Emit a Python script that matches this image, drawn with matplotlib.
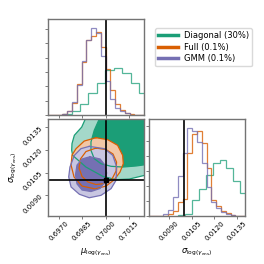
import matplotlib
matplotlib.use('Agg')
import matplotlib.pyplot as plt
import numpy as np
from matplotlib.lines import Line2D
from matplotlib.ticker import MultipleLocator

# Axis ranges and ticks
mu_range = (0.69632, 0.70244)
sig_range = (0.00765, 0.01403)
mu_ticks = [0.6970, 0.6985, 0.7000, 0.7015]
sig_ticks = [0.0090, 0.0105, 0.0120, 0.0135]
mu_true = 0.7000
sig_true = 0.0100

names = ['Diagonal (30%)', 'Full (0.1%)', 'GMM (0.1%)']
colors = ['#1b9e77', '#d95f02', '#7570b3']
light = ['#a4d8c9', '#f2c7a6', '#c8c6e1']

# 1D marginals of mu (density), Full and GMM share 20 bins over mu_range
mu_full = [0, 0, 0, 12, 60, 170, 440, 745, 1050, 1100, 1160, 950, 645, 355, 160, 75, 25, 12, 0, 0]
mu_gmm = [0, 0, 0, 12, 60, 185, 415, 755, 1050, 1220, 1145, 820, 475, 220, 100, 50, 25, 0, 0, 0]
mu_diag_edges = [0.69728, 0.69782, 0.69836, 0.69890, 0.69944, 0.69998,
                 0.70053, 0.70107, 0.70161, 0.70215, 0.70270]
mu_diag = [12, 60, 160, 305, 450, 635, 660, 585, 450, 305]

# 1D marginals of sigma (density)
sig_full = [0, 0, 0, 0, 24, 70, 188, 223, 846, 1093, 1128, 975, 646, 212, 129, 70, 35, 12, 0, 0]
sig_gmm = [0, 0, 0, 24, 82, 247, 529, 846, 1175, 1128, 987, 705, 388, 188, 106, 59, 24, 12, 0, 0]
sig_diag_edges = [0.00959, 0.01005, 0.01051, 0.01097, 0.01142, 0.01188,
                  0.01234, 0.01280, 0.01326, 0.01372, 0.01418]
sig_diag = [12, 24, 212, 364, 552, 705, 752, 646, 470, 305]

# 2D contour outlines (mu, sigma), outer then inner level
diag_outer_mu = [0.69887, 0.69870, 0.69847, 0.69800, 0.69785, 0.69783, 0.69789, 0.69874,
                 0.69981, 0.70066, 0.70150, 0.70250, 0.70346, 0.70346]
diag_outer_sig = [0.01495, 0.01403, 0.01350, 0.01296, 0.01241, 0.01197, 0.01164, 0.01087,
                  0.01026, 0.01004, 0.01008, 0.01033, 0.01068, 0.01495]
diag_inner_mu = [0.69964, 0.69959, 0.69927, 0.69906, 0.69906, 0.69927, 0.69970, 0.70034,
                 0.70108, 0.70193, 0.70250, 0.70346, 0.70346]
diag_inner_sig = [0.01495, 0.01403, 0.01329, 0.01252, 0.01197, 0.01142, 0.01109, 0.01092,
                  0.01087, 0.01094, 0.01102, 0.01133, 0.01495]

full_outer_mu = [0.69938, 0.70013, 0.70076, 0.70108, 0.70112, 0.70091, 0.70055, 0.70002,
                 0.69932, 0.69849, 0.69798, 0.69779, 0.69785, 0.69811, 0.69863]
full_outer_sig = [0.01280, 0.01267, 0.01230, 0.01164, 0.01109, 0.01054, 0.01004, 0.00962,
                  0.00943, 0.00962, 0.01022, 0.01100, 0.01166, 0.01208, 0.01258]
full_inner_mu = [0.69938, 0.70002, 0.70046, 0.70069, 0.70066, 0.70040, 0.69995, 0.69938,
                 0.69887, 0.69849, 0.69830, 0.69839, 0.69874]
full_inner_sig = [0.01212, 0.01202, 0.01173, 0.01120, 0.01061, 0.01008, 0.00979, 0.00972,
                  0.00989, 0.01025, 0.01081, 0.01140, 0.01189]

gmm_outer_mu = [0.69895, 0.69991, 0.70045, 0.70070, 0.70066, 0.70034, 0.69970, 0.69895,
                0.69832, 0.69779, 0.69764, 0.69772, 0.69800, 0.69842]
gmm_outer_sig = [0.01223, 0.01208, 0.01164, 0.01087, 0.01000, 0.00945, 0.00901, 0.00885,
                 0.00908, 0.00956, 0.01022, 0.01087, 0.01164, 0.01208]
gmm_inner_mu = [0.69900, 0.69964, 0.69995, 0.70006, 0.69995, 0.69964, 0.69906, 0.69849,
                0.69817, 0.69807, 0.69817, 0.69849]
gmm_inner_sig = [0.01155, 0.01140, 0.01100, 0.01048, 0.00989, 0.00946, 0.00926, 0.00936,
                 0.00976, 0.01035, 0.01100, 0.01140]

fig = plt.figure(figsize=(2.64, 2.64), dpi=100)
ax_mu = fig.add_axes([0.1818, 0.5644, 0.3636, 0.3636])
ax_2d = fig.add_axes([0.1818, 0.1818, 0.3636, 0.3674])
ax_sig = fig.add_axes([0.5644, 0.1818, 0.3636, 0.3674])

for ax in [ax_mu, ax_2d, ax_sig]:
    for s in ax.spines.values():
        s.set_color('0.45')
        s.set_linewidth(1.0)
    ax.tick_params(length=2, width=0.6, color='0.4', labelsize=5, pad=1)

# mu histogram
mu_edges = np.linspace(mu_range[0], mu_range[1], len(mu_full) + 1)
ax_mu.stairs(mu_diag, mu_diag_edges, color=colors[0], lw=0.9, alpha=0.75)
ax_mu.stairs(mu_full, mu_edges, color=colors[1], lw=0.9, alpha=0.8)
ax_mu.stairs(mu_gmm, mu_edges, color=colors[2], lw=0.9, alpha=0.8)
ax_mu.axvline(mu_true, color='k', lw=1.2)
ax_mu.set_xlim(mu_range)
ax_mu.set_ylim(0, 1.1 * max(mu_gmm))
ax_mu.set_xticks(mu_ticks)
ax_mu.yaxis.set_major_locator(MultipleLocator(200))
ax_mu.set_xticklabels([])
ax_mu.set_yticklabels([])

# sigma histogram
sig_edges = np.linspace(sig_range[0], sig_range[1], len(sig_full) + 1)
ax_sig.stairs(sig_diag, sig_diag_edges, color=colors[0], lw=0.9, alpha=0.75)
ax_sig.stairs(sig_full, sig_edges, color=colors[1], lw=0.9, alpha=0.8)
ax_sig.stairs(sig_gmm, sig_edges, color=colors[2], lw=0.9, alpha=0.8)
ax_sig.axvline(sig_true, color='k', lw=1.2)
ax_sig.set_xlim(sig_range)
ax_sig.set_ylim(0, 1.1 * max(sig_gmm))
ax_sig.set_xticks(sig_ticks)
ax_sig.set_xticklabels(['%.4f' % t for t in sig_ticks], rotation=45)
ax_sig.yaxis.set_major_locator(MultipleLocator(200))
ax_sig.set_yticklabels([])
ax_sig.set_xlabel(r'$\sigma_{\log(\gamma_{\rm ens})}$', fontsize=6)
ax_sig.xaxis.set_label_coords(0.5, -0.32)

# 2D contours: all fills first, then outlines
contours = [
    (diag_outer_mu, diag_outer_sig, diag_inner_mu, diag_inner_sig),
    (full_outer_mu, full_outer_sig, full_inner_mu, full_inner_sig),
    (gmm_outer_mu, gmm_outer_sig, gmm_inner_mu, gmm_inner_sig),
]
inner_fill = [colors[0], light[1], colors[2]]
for i, (omu, osig, imu, isig) in enumerate(contours):
    ax_2d.fill(omu, osig, color=light[i], lw=0)
    ax_2d.fill(imu, isig, color=inner_fill[i], lw=0)
for i, (omu, osig, imu, isig) in enumerate(contours):
    ax_2d.plot(omu + omu[:1], osig + osig[:1], color=colors[i], lw=0.9)
    ax_2d.plot(imu + imu[:1], isig + isig[:1], color=colors[i], lw=0.9)

ax_2d.axvline(mu_true, color='k', lw=1.2)
ax_2d.axhline(sig_true, color='k', lw=1.2)
ax_2d.plot([mu_true], [sig_true], 's', color='k', ms=3)
ax_2d.set_xlim(mu_range)
ax_2d.set_ylim(sig_range)
ax_2d.set_xticks(mu_ticks)
ax_2d.set_xticklabels(['%.4f' % t for t in mu_ticks], rotation=45)
ax_2d.set_yticks(sig_ticks)
ax_2d.set_yticklabels(['%.4f' % t for t in sig_ticks], rotation=45)
ax_2d.set_xlabel(r'$\mu_{\log(\gamma_{\rm ens})}$', fontsize=6)
ax_2d.set_ylabel(r'$\sigma_{\log(\gamma_{\rm ens})}$', fontsize=6)
ax_2d.xaxis.set_label_coords(0.5, -0.32)
ax_2d.yaxis.set_label_coords(-0.3, 0.5)

handles = [Line2D([], [], color=c, lw=2.5) for c in colors]
fig.legend(handles, names, loc='upper left', bbox_to_anchor=(0.572, 0.908),
           fontsize=6, handlelength=2.4, handletextpad=0.7, labelspacing=0.3,
           borderpad=0.35, framealpha=1, edgecolor='0.85')

fig.savefig('out.png', dpi=100)
